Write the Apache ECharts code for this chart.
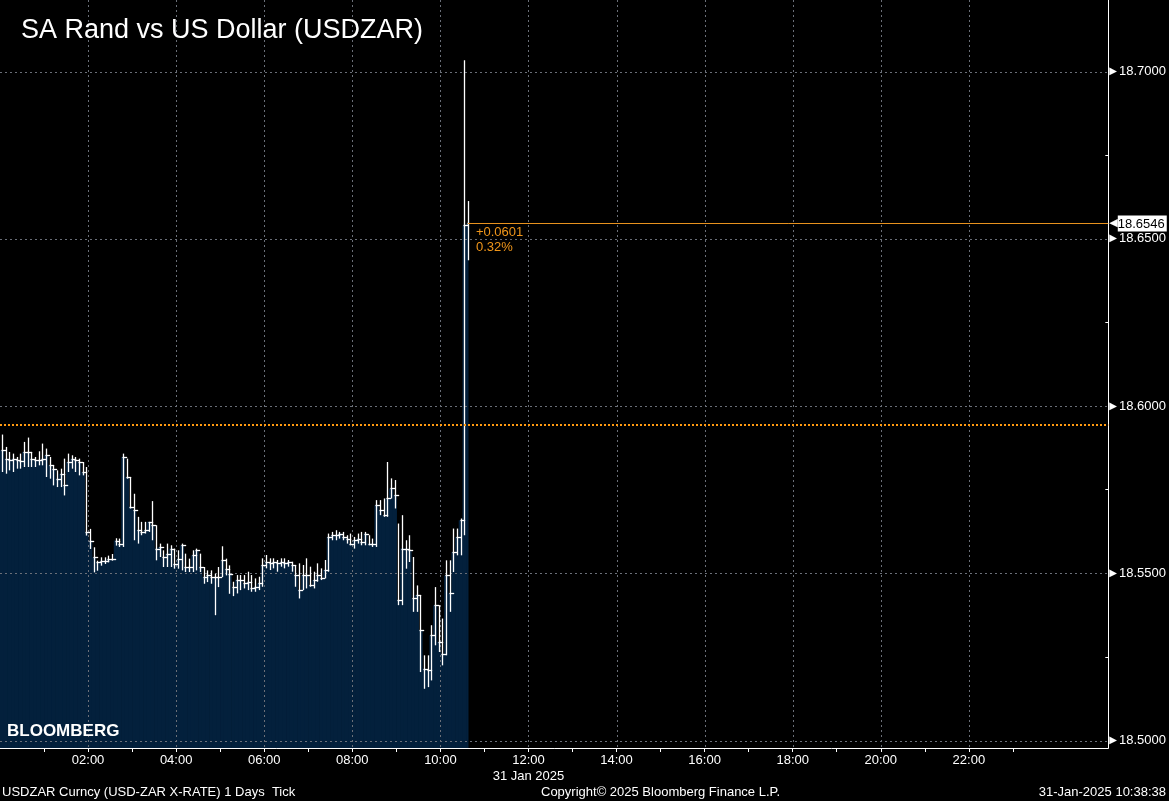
<!DOCTYPE html>
<html><head><meta charset="utf-8">
<script src="https://cdn.jsdelivr.net/npm/echarts@6/dist/echarts.min.js"></script>
<style>html,body{margin:0;padding:0;background:#000}#c{width:1169px;height:801px}</style>
</head><body><div id="c"></div>
<script>
// ---- data (5-minute buckets from 00:00, 31 Jan 2025) ----
const bucketMinutes = 5;
const highs = [
18.5915,18.5878,18.5863,18.5858,18.5848,18.5858,18.5893,18.5906,18.5863,18.5848,
18.5865,18.5888,18.5873,18.5848,18.5823,18.5808,18.5813,18.5843,18.5858,18.5853,
18.5848,18.5843,18.5833,18.5818,18.5633,18.5578,18.5538,18.5548,18.5548,18.5553,
18.5558,18.5605,18.5604,18.5858,18.5843,18.5788,18.5738,18.5669,18.5654,18.5654,
18.5654,18.5716,18.5644,18.5589,18.5569,18.5589,18.5584,18.5574,18.5569,18.5589,
18.5559,18.5544,18.5569,18.5574,18.5559,18.5519,18.5509,18.5509,18.5499,18.5519,
18.5581,18.5544,18.5524,18.5475,18.5495,18.5495,18.5495,18.5505,18.5495,18.5485,
18.5490,18.5545,18.5555,18.5545,18.5545,18.5540,18.5545,18.5545,18.5540,18.5535,
18.5525,18.5530,18.5525,18.5545,18.5520,18.5505,18.5530,18.5515,18.5540,18.5619,
18.5624,18.5629,18.5624,18.5624,18.5614,18.5619,18.5609,18.5619,18.5624,18.5624,
18.5614,18.5604,18.5719,18.5719,18.5724,18.5833,18.5784,18.5779,18.5649,18.5674,
18.5599,18.5614,18.5549,18.5464,18.5435,18.5255,18.5255,18.5345,18.5459,18.5405,
18.5365,18.5539,18.5539,18.5634,18.5634,18.5664,18.7034,18.6613];
const lows = [
18.5803,18.5798,18.5808,18.5803,18.5813,18.5813,18.5818,18.5818,18.5818,18.5818,
18.5823,18.5823,18.5788,18.5783,18.5763,18.5758,18.5758,18.5733,18.5803,18.5813,
18.5803,18.5793,18.5793,18.5613,18.5573,18.5503,18.5508,18.5523,18.5528,18.5533,
18.5538,18.5583,18.5579,18.5579,18.5783,18.5694,18.5599,18.5589,18.5614,18.5619,
18.5624,18.5599,18.5539,18.5549,18.5519,18.5519,18.5519,18.5514,18.5514,18.5509,
18.5504,18.5504,18.5504,18.5509,18.5504,18.5469,18.5474,18.5469,18.5375,18.5459,
18.5489,18.5494,18.5439,18.5432,18.5440,18.5450,18.5455,18.5450,18.5445,18.5445,
18.5450,18.5460,18.5515,18.5510,18.5515,18.5505,18.5520,18.5515,18.5520,18.5505,
18.5460,18.5425,18.5450,18.5455,18.5460,18.5455,18.5475,18.5480,18.5485,18.5505,
18.5599,18.5599,18.5604,18.5599,18.5589,18.5584,18.5574,18.5589,18.5584,18.5584,
18.5584,18.5579,18.5579,18.5674,18.5669,18.5669,18.5724,18.5694,18.5405,18.5405,
18.5514,18.5534,18.5385,18.5385,18.5205,18.5155,18.5160,18.5180,18.5285,18.5265,
18.5225,18.5255,18.5385,18.5504,18.5554,18.5554,18.5614,18.6436];
const closes = [
18.5868,18.5843,18.5838,18.5843,18.5838,18.5835,18.5863,18.5863,18.5843,18.5838,
18.5838,18.5843,18.5853,18.5823,18.5813,18.5783,18.5798,18.5763,18.5833,18.5843,
18.5838,18.5833,18.5803,18.5623,18.5598,18.5548,18.5533,18.5538,18.5538,18.5543,
18.5543,18.5598,18.5589,18.5848,18.5788,18.5699,18.5689,18.5629,18.5624,18.5629,
18.5654,18.5644,18.5574,18.5579,18.5549,18.5559,18.5574,18.5529,18.5544,18.5584,
18.5519,18.5519,18.5554,18.5569,18.5519,18.5489,18.5494,18.5489,18.5489,18.5489,
18.5539,18.5514,18.5499,18.5458,18.5480,18.5480,18.5470,18.5475,18.5455,18.5460,
18.5470,18.5525,18.5535,18.5530,18.5535,18.5530,18.5535,18.5530,18.5535,18.5525,
18.5495,18.5450,18.5495,18.5495,18.5465,18.5480,18.5495,18.5485,18.5510,18.5609,
18.5614,18.5614,18.5619,18.5609,18.5604,18.5589,18.5599,18.5604,18.5594,18.5619,
18.5589,18.5589,18.5704,18.5689,18.5674,18.5724,18.5754,18.5734,18.5420,18.5574,
18.5574,18.5569,18.5425,18.5435,18.5330,18.5215,18.5210,18.5315,18.5405,18.5295,
18.5260,18.5494,18.5440,18.5564,18.5609,18.5659,18.6540,18.6546];
const prevClose = 18.5945;
const lastPrice = 18.6546;
const xLabelHours = [2,4,6,8,10,12,14,16,18,20,22];
const xTickHours = [1,2,3,4,5,6,7,8,9,10,11,12,13,14,15,16,17,18,19,20,21,22,23];
const dateLabel = '31 Jan 2025';
const dateLabelHour = 12;
const yLabels = [18.50,18.55,18.60,18.65,18.70];
const yMinorTicks = [18.525,18.575,18.625,18.675];
const titleText = 'SA Rand vs US Dollar (USDZAR)';
const footLeft = 'USDZAR Curncy (USD-ZAR X-RATE) 1 Days  Tick';
const footMid = 'Copyright\u00a9 2025 Bloomberg Finance L.P.';
const footRight = '31-Jan-2025 10:38:38';

// ---- chart ----
const FONT = 'Liberation Sans';
const bars = highs.map((h, i) => [i * bucketMinutes, h, lows[i], closes[i]]);
const lastT = (highs.length - 1) * bucketMinutes + bucketMinutes / 2;
const change = lastPrice - prevClose;
const pct = change / prevClose * 100;
const X_MAX = 1510, Y_MIN = 18.4978, Y_MAX = 18.7214;

function renderFill(params, api) {
  const t = api.value(0), c = api.value(3);
  const isLast = params.dataIndex === highs.length - 1;
  const p0 = api.coord([t, c]), p1 = api.coord([t + bucketMinutes * (isLast ? 0.5 : 1), c]);
  const cs = params.coordSys;
  return { type: 'rect', shape: { x: p0[0], y: p0[1], width: p1[0] - p0[0] + 0.6, height: cs.y + cs.height - p0[1] },
    style: { fill: '#03203c' } };
}
function renderTrace(params, api) {
  const t = api.value(0);
  const w = api.size([bucketMinutes, 0])[0];
  const xc = Math.round(api.coord([t, Y_MIN])[0] + w * 0.5) + 0.5;
  const yh = api.coord([t, api.value(1)])[1];
  const yl = api.coord([t, api.value(2)])[1];
  const yc = Math.round(api.coord([t, api.value(3)])[1]) + 0.5;
  const last = params.dataIndex === highs.length - 1;
  return { type: 'group', children: [
    { type: 'line', shape: { x1: xc, y1: yh, x2: xc, y2: yl }, style: { stroke: '#ffffff', lineWidth: 1.3 } },
    { type: 'line', shape: { x1: xc - 1, y1: yc, x2: last ? xc : xc + w, y2: yc }, style: { stroke: '#ffffff', lineWidth: 1.3 } }
  ]};
}
function renderVGrid(params, api) {
  const cs = params.coordSys;
  const x = Math.round(api.coord([api.value(0), Y_MIN])[0]) + 0.5;
  return { type: 'line', shape: { x1: x, y1: cs.y, x2: x, y2: cs.y + cs.height },
    style: { stroke: '#6a6f78', lineWidth: 1, lineDash: [2, 3] } };
}
function renderHGrid(params, api) {
  const cs = params.coordSys;
  const y = Math.round(api.coord([0, api.value(1)])[1]) + 0.5;
  return { type: 'line', shape: { x1: cs.x, y1: y, x2: cs.x + cs.width, y2: y },
    style: { stroke: '#6a6f78', lineWidth: 1, lineDash: [2, 3] } };
}

const chart = echarts.init(document.getElementById('c'), null, { renderer: 'canvas' });
chart.setOption({
  backgroundColor: '#000000',
  animation: false,
  title: [
    { text: titleText, left: 21, top: 17, padding: 0, textStyle: { color: '#ffffff', fontSize: 27, fontWeight: 'normal', fontFamily: FONT } },
    { text: 'BLOOMBERG', left: 7, top: 723, padding: 0, textStyle: { color: '#ffffff', fontSize: 17, fontWeight: 'bold', fontFamily: FONT } },
    { text: footLeft, left: 2, top: 786, padding: 0, textStyle: { color: '#ffffff', fontSize: 13, fontWeight: 'normal', fontFamily: FONT } },
    { text: footMid, left: 541, top: 786, padding: 0, textStyle: { color: '#ffffff', fontSize: 13, fontWeight: 'normal', fontFamily: FONT } },
    { text: footRight, right: 3, top: 786, padding: 0, textStyle: { color: '#ffffff', fontSize: 13, fontWeight: 'normal', fontFamily: FONT } }
  ],
  grid: { left: 0, right: 59, top: 0, bottom: 53 },
  xAxis: {
    type: 'value', min: 0, max: X_MAX,
    axisLine: { show: true, onZero: false, lineStyle: { color: '#ffffff', width: 1 } },
    axisTick: { show: true, length: 4, lineStyle: { color: '#ffffff' }, customValues: xTickHours.map(h => h * 60) },
    axisLabel: {
      color: '#ffffff', fontSize: 13, fontFamily: FONT, margin: 4, lineHeight: 16,
      customValues: xLabelHours.map(h => h * 60),
      formatter: v => {
        const h = Math.round(v / 60);
        const s = (h < 10 ? '0' : '') + h + ':00';
        return h === dateLabelHour ? s + '\n' + dateLabel : s;
      }
    },
    splitLine: { show: false }
  },
  yAxis: {
    type: 'value', position: 'right', min: Y_MIN, max: Y_MAX,
    axisLine: { show: true, onZero: false, lineStyle: { color: '#ffffff', width: 1 } },
    axisTick: { show: true, length: 3, inside: true, lineStyle: { color: '#ffffff' }, customValues: yMinorTicks },
    axisLabel: {
      color: '#ffffff', fontSize: 13, fontFamily: FONT, margin: 1,
      customValues: yLabels,
      formatter: v => '{t|\u25B6}{v|' + v.toFixed(4) + '}',
      rich: {
        t: { fontSize: 10, fontFamily: 'DejaVu Sans', color: '#ffffff', padding: [0, 2, 0, 0] },
        v: { fontSize: 13, fontFamily: FONT, color: '#ffffff' }
      }
    },
    splitLine: { show: false }
  },
  series: [
    { type: 'custom', name: 'fill', z: 1, silent: true, renderItem: renderFill, encode: { x: 0, y: [1, 2, 3] }, data: bars },
    { type: 'custom', name: 'vgrid', z: 2, silent: true, renderItem: renderVGrid, encode: { x: 0, y: 1 },
      data: xLabelHours.map(h => [h * 60, yLabels[0]]) },
    { type: 'custom', name: 'hgrid', z: 2, silent: true, renderItem: renderHGrid, encode: { x: 0, y: 1 },
      data: yLabels.map(v => [0, v]) },
    { type: 'custom', name: 'USDZAR', z: 3, silent: true, renderItem: renderTrace, encode: { x: 0, y: [1, 2, 3] }, data: bars,
      markLine: {
        silent: true, symbol: ['none', 'none'], animation: false,
        data: [
          [
            { coord: [0, prevClose], lineStyle: { color: '#ff9a10', width: 2, type: [2, 2] }, label: { show: false } },
            { coord: [X_MAX, prevClose] }
          ],
          [
            { coord: [lastT, lastPrice], lineStyle: { color: '#e8921e', width: 1, type: 'solid' },
              label: {
                show: true, position: 'end', distance: 1,
                formatter: '{a|\u25C0}{b|' + lastPrice.toFixed(4) + '}',
                rich: {
                  a: { fontSize: 11, fontFamily: 'DejaVu Sans', color: '#ffffff' },
                  b: { fontSize: 13, fontFamily: FONT, color: '#000000', backgroundColor: '#ffffff', padding: [2, 2, 1, 0] }
                }
              } },
            { coord: [X_MAX, lastPrice] }
          ]
        ]
      },
      markPoint: {
        silent: true, symbol: 'circle', symbolSize: 0,
        data: [{ coord: [lastT, lastPrice],
          label: { show: true, position: [8, 1], color: '#f0961a', fontSize: 13, fontFamily: FONT, lineHeight: 15, align: 'left', verticalAlign: 'top',
            formatter: (change >= 0 ? '+' : '') + change.toFixed(4) + '\n' + pct.toFixed(2) + '%' } }]
      }
    }
  ]
});
</script></body></html>
